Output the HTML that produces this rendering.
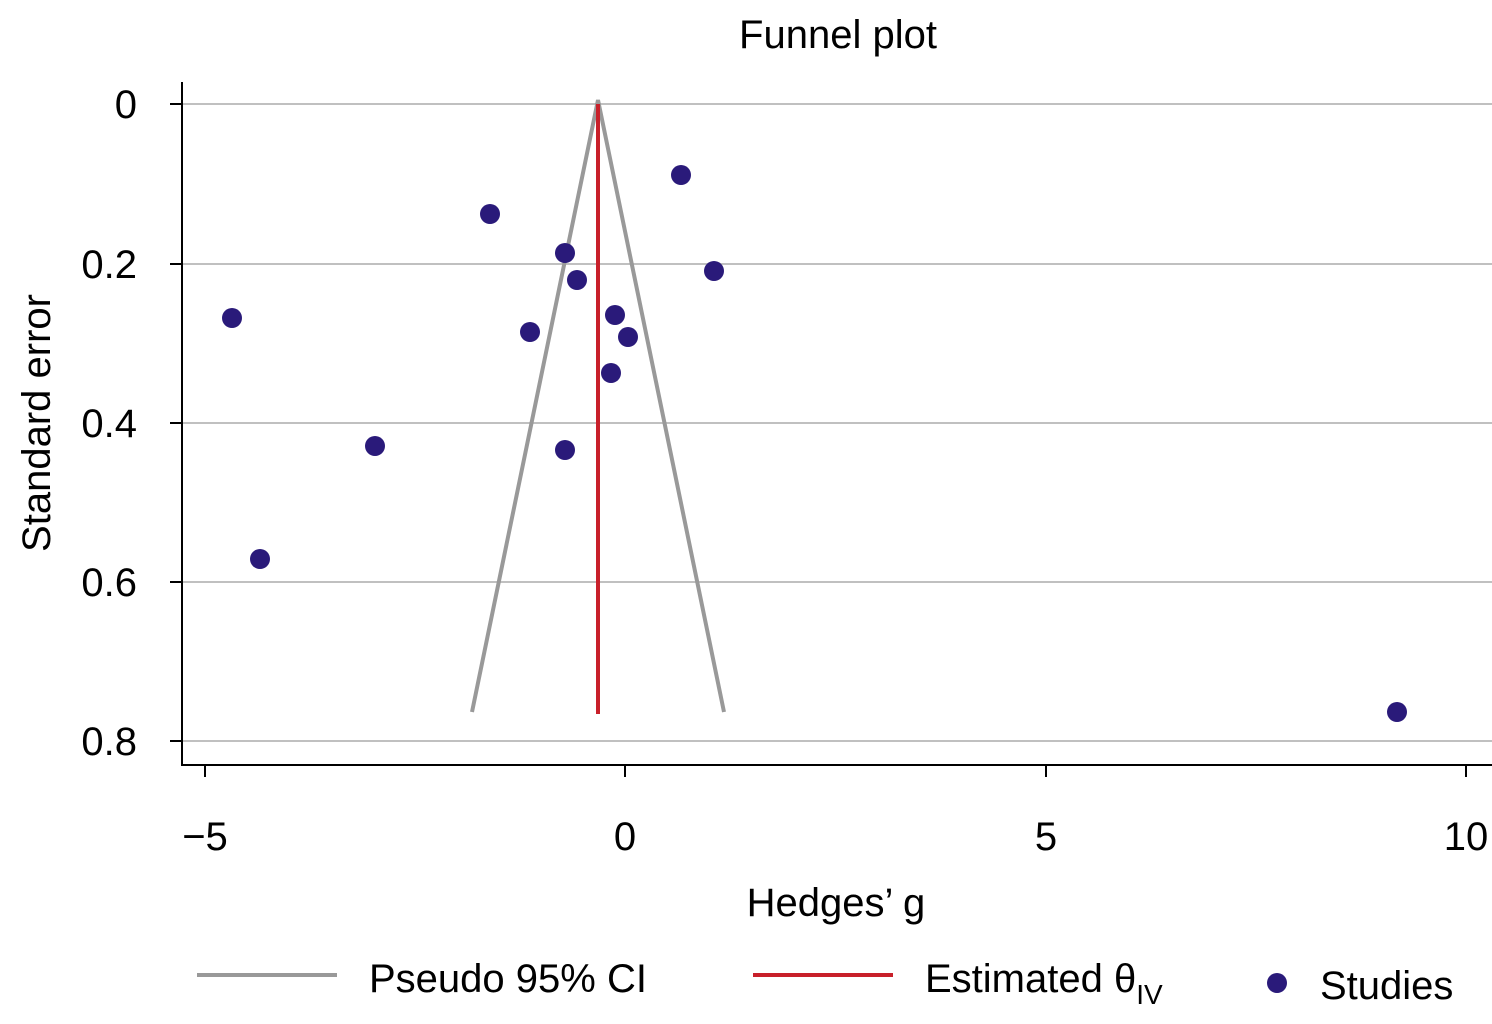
<!DOCTYPE html>
<html><head><meta charset="utf-8"><style>
html,body{margin:0;padding:0;background:#fff;}
svg{display:block;}
text{font-family:"Liberation Sans Narrow","Liberation Sans",sans-serif;fill:#000;}
</style></head><body>
<svg width="1492" height="1024" viewBox="0 0 1492 1024" xmlns="http://www.w3.org/2000/svg">
<rect width="1492" height="1024" fill="#fff"/>
<text x="838" y="48" font-size="40" text-anchor="middle">Funnel plot</text>
<g stroke="#c0c0c0" stroke-width="2">
<line x1="182" y1="104" x2="1492" y2="104"/>
<line x1="182" y1="264" x2="1492" y2="264"/>
<line x1="182" y1="423" x2="1492" y2="423"/>
<line x1="182" y1="582" x2="1492" y2="582"/>
<line x1="182" y1="741" x2="1492" y2="741"/>
</g>
<g stroke="#000" stroke-width="2">
<line x1="182" y1="82" x2="182" y2="766"/>
<line x1="181" y1="765" x2="1492" y2="765"/>
<line x1="170" y1="104" x2="182" y2="104"/>
<line x1="170" y1="264" x2="182" y2="264"/>
<line x1="170" y1="423" x2="182" y2="423"/>
<line x1="170" y1="582" x2="182" y2="582"/>
<line x1="170" y1="741" x2="182" y2="741"/>
<line x1="205" y1="765" x2="205" y2="777"/>
<line x1="625" y1="765" x2="625" y2="777"/>
<line x1="1046" y1="765" x2="1046" y2="777"/>
<line x1="1466" y1="765" x2="1466" y2="777"/>
</g>
<g font-size="40" text-anchor="end">
<text x="137" y="118">0</text>
<text x="137" y="278">0.2</text>
<text x="137" y="437">0.4</text>
<text x="137" y="596">0.6</text>
<text x="137" y="755">0.8</text>
</g>
<g font-size="40" text-anchor="middle">
<text x="205" y="850">−5</text>
<text x="625" y="850">0</text>
<text x="1046" y="850">5</text>
<text x="1466" y="850">10</text>
<text x="836" y="916">Hedges’ g</text>
</g>
<text transform="translate(50,423) rotate(-90)" font-size="40" text-anchor="middle">Standard error</text>
<polyline points="472,712 598,100 724,712" fill="none" stroke="#999" stroke-width="4"/>
<line x1="598" y1="104" x2="598" y2="714" stroke="#c8202a" stroke-width="4"/>
<g fill="#2a1a7a">
<circle cx="681" cy="175" r="10"/><circle cx="490" cy="214" r="10"/>
<circle cx="565" cy="253" r="10"/><circle cx="714" cy="271" r="10"/>
<circle cx="577" cy="280" r="10"/><circle cx="232" cy="318" r="10"/>
<circle cx="530" cy="332" r="10"/><circle cx="615" cy="315" r="10"/>
<circle cx="628" cy="337" r="10"/><circle cx="611" cy="373" r="10"/>
<circle cx="375" cy="446" r="10"/><circle cx="565" cy="450" r="10"/>
<circle cx="260" cy="559" r="10"/><circle cx="1397" cy="712" r="10"/>
<circle cx="1277" cy="983" r="10"/>
</g>
<line x1="197" y1="975" x2="337" y2="975" stroke="#999" stroke-width="4"/>
<line x1="753" y1="975" x2="893" y2="975" stroke="#c8202a" stroke-width="4"/>
<g font-size="40">
<text x="369" y="992">Pseudo 95% CI</text>
<text x="925" y="992">Estimated θ<tspan font-size="28" dy="12">IV</tspan></text>
<text x="1320" y="999">Studies</text>
</g>
</svg>
</body></html>
